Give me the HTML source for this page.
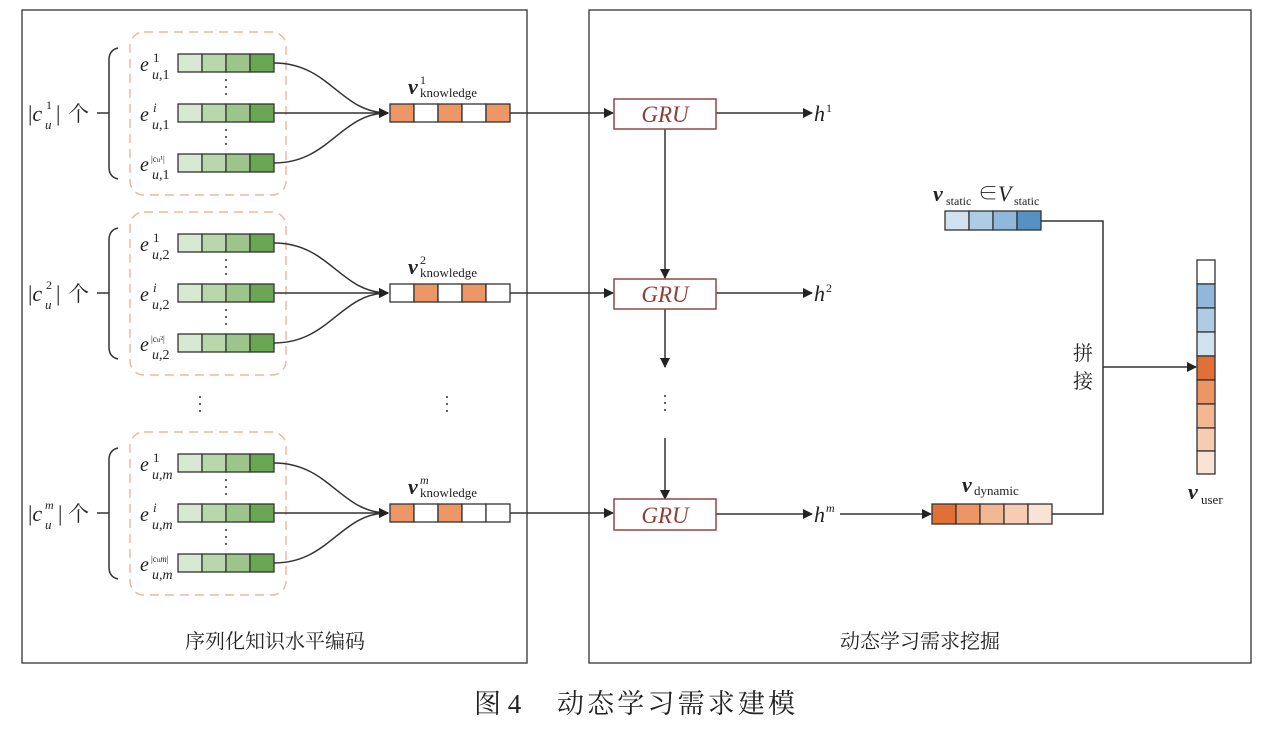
<!DOCTYPE html>
<html><head><meta charset="utf-8"><style>
html,body{margin:0;padding:0;background:#fff;}
svg{display:block;}
text{font-family:"Liberation Serif","Noto Serif CJK SC",serif;fill:#222;}
.cn{font-family:"Liberation Serif","Noto Serif CJK SC","Noto Sans CJK SC",serif;}
</style></head><body>
<svg width="1282" height="729" viewBox="0 0 1282 729" xmlns="http://www.w3.org/2000/svg">
<defs>
<marker id="ar" markerWidth="10" markerHeight="10" refX="9" refY="5" orient="auto" markerUnits="userSpaceOnUse">
<path d="M0,0 L10,5 L0,10 z" fill="#222"/></marker>
<g id="bars" stroke="#333" stroke-width="1.3">
<rect x="178" y="-9" width="24" height="18" fill="#d7e9d2"/><rect x="202" y="-9" width="24" height="18" fill="#b8d8ab"/><rect x="226" y="-9" width="24" height="18" fill="#9cc58c"/><rect x="250" y="-9" width="24" height="18" fill="#6aa653"/>
</g>
<g id="grp">
<rect x="130" y="-31" width="156" height="163" rx="14" fill="none" stroke="#f0b597" stroke-width="1.4" stroke-dasharray="9,6"/>
<path d="M118,-15 Q109,-13 109,-3 L109,104 Q109,114 118,116 M97,50 L109,50" fill="none" stroke="#333" stroke-width="1.5"/>
<use href="#bars" y="0"/><use href="#bars" y="50"/><use href="#bars" y="100"/>
<g fill="#333"><circle cx="226" cy="17" r="1"/><circle cx="226" cy="24" r="1"/><circle cx="226" cy="31" r="1"/><circle cx="226" cy="67" r="1"/><circle cx="226" cy="74" r="1"/><circle cx="226" cy="81" r="1"/></g>
<g fill="none" stroke="#333" stroke-width="1.5">
<path d="M274,0 C330,0 340,50 388,50" marker-end="url(#ar)"/>
<path d="M274,50 L388,50" marker-end="url(#ar)"/>
<path d="M274,100 C330,100 340,50 388,50" marker-end="url(#ar)"/>
</g>
</g>
</defs>

<rect x="22" y="10" width="505" height="653" fill="none" stroke="#333" stroke-width="1.3"/>
<rect x="589" y="10" width="662" height="653" fill="none" stroke="#333" stroke-width="1.3"/>

<use href="#grp" y="63"/>
<use href="#grp" y="243"/>
<use href="#grp" y="463"/>

<g font-style="italic" font-size="20">
<text x="140" y="71">e</text><text x="140" y="121">e</text><text x="140" y="171">e</text>
<text x="140" y="251">e</text><text x="140" y="301">e</text><text x="140" y="351">e</text>
<text x="140" y="471">e</text><text x="140" y="521">e</text><text x="140" y="571">e</text>
</g>
<g font-size="13">
<text x="153" y="62">1</text><text x="153" y="112" font-style="italic">i</text><text x="151" y="162" font-size="9">|c<tspan font-size="7">u</tspan>¹|</text>
<text x="153" y="242">1</text><text x="153" y="292" font-style="italic">i</text><text x="151" y="342" font-size="9">|c<tspan font-size="7">u</tspan>²|</text>
<text x="153" y="462">1</text><text x="153" y="512" font-style="italic">i</text><text x="151" y="562" font-size="9">|c<tspan font-size="7">u</tspan><tspan font-style="italic">m</tspan>|</text>
</g>
<g font-size="14">
<text x="152" y="79"><tspan font-style="italic">u</tspan>,1</text><text x="152" y="129"><tspan font-style="italic">u</tspan>,1</text><text x="152" y="179"><tspan font-style="italic">u</tspan>,1</text>
<text x="152" y="259"><tspan font-style="italic">u</tspan>,2</text><text x="152" y="309"><tspan font-style="italic">u</tspan>,2</text><text x="152" y="359"><tspan font-style="italic">u</tspan>,2</text>
<text x="152" y="479" font-style="italic">u,m</text><text x="152" y="529" font-style="italic">u,m</text><text x="152" y="579" font-style="italic">u,m</text>
</g>
<g font-size="22">
<text x="28" y="121">|<tspan font-style="italic">c</tspan></text><text x="56" y="121">|</text>
<text x="28" y="301">|<tspan font-style="italic">c</tspan></text><text x="56" y="301">|</text>
<text x="28" y="521">|<tspan font-style="italic">c</tspan></text><text x="58" y="521">|</text>
</g>
<g font-size="12"><text x="46" y="109">1</text><text x="46" y="289">2</text><text x="45" y="509" font-style="italic">m</text></g>
<g font-size="13" font-style="italic"><text x="45" y="129">u</text><text x="45" y="309">u</text><text x="45" y="529">u</text></g>
<g font-size="21" class="cn"><text x="68" y="121">个</text><text x="68" y="301">个</text><text x="68" y="521">个</text></g>

<g stroke="#333" stroke-width="1.3">
<rect x="390" y="104" width="24" height="18" fill="#ee9766"/><rect x="414" y="104" width="24" height="18" fill="#fff"/><rect x="438" y="104" width="24" height="18" fill="#ee9766"/><rect x="462" y="104" width="24" height="18" fill="#fff"/><rect x="486" y="104" width="24" height="18" fill="#ee9766"/>
<rect x="390" y="284" width="24" height="18" fill="#fff"/><rect x="414" y="284" width="24" height="18" fill="#ee9766"/><rect x="438" y="284" width="24" height="18" fill="#fff"/><rect x="462" y="284" width="24" height="18" fill="#ee9766"/><rect x="486" y="284" width="24" height="18" fill="#fff"/>
<rect x="390" y="504" width="24" height="18" fill="#ee9766"/><rect x="414" y="504" width="24" height="18" fill="#fff"/><rect x="438" y="504" width="24" height="18" fill="#ee9766"/><rect x="462" y="504" width="24" height="18" fill="#fff"/><rect x="486" y="504" width="24" height="18" fill="#fff"/>
</g>
<g>
<text x="408" y="94" font-size="22" font-style="italic" font-weight="bold">v</text><text x="420" y="84" font-size="12">1</text><text x="420" y="97" font-size="13">knowledge</text>
<text x="408" y="274" font-size="22" font-style="italic" font-weight="bold">v</text><text x="420" y="264" font-size="12">2</text><text x="420" y="277" font-size="13">knowledge</text>
<text x="408" y="494" font-size="22" font-style="italic" font-weight="bold">v</text><text x="420" y="484" font-size="12" font-style="italic">m</text><text x="420" y="497" font-size="13">knowledge</text>
</g>
<g fill="#333"><circle cx="200" cy="397" r="1"/><circle cx="200" cy="404" r="1"/><circle cx="200" cy="411" r="1"/><circle cx="447" cy="397" r="1"/><circle cx="447" cy="404" r="1"/><circle cx="447" cy="411" r="1"/>
<circle cx="665" cy="396" r="1"/><circle cx="665" cy="403" r="1"/><circle cx="665" cy="410" r="1"/></g>

<g fill="none" stroke="#333" stroke-width="1.5">
<path d="M510,113 L613,113" marker-end="url(#ar)"/>
<path d="M510,293 L613,293" marker-end="url(#ar)"/>
<path d="M510,513 L613,513" marker-end="url(#ar)"/>
<path d="M716,113 L812,113" marker-end="url(#ar)"/>
<path d="M716,293 L812,293" marker-end="url(#ar)"/>
<path d="M716,514 L812,514" marker-end="url(#ar)"/>
<path d="M665,129 L665,278" marker-end="url(#ar)"/>
<path d="M665,309 L665,367" marker-end="url(#ar)"/>
<path d="M665,438 L665,499" marker-end="url(#ar)"/>
<path d="M840,514 L931,514" marker-end="url(#ar)"/>
<path d="M1041,221 L1103,221 L1103,514 L1052,514"/>
<path d="M1103,367 L1196,367" marker-end="url(#ar)"/>
</g>
<g fill="#fff" stroke="#8b4a45" stroke-width="1.5">
<rect x="614" y="99" width="102" height="30"/><rect x="614" y="279" width="102" height="30"/><rect x="614" y="499" width="102" height="31"/>
</g>
<g font-size="23" font-style="italic" text-anchor="middle">
<text x="665" y="122" style="fill:#8b3f3a">GRU</text><text x="665" y="302" style="fill:#8b3f3a">GRU</text><text x="665" y="523" style="fill:#8b3f3a">GRU</text>
</g>
<g font-size="22" font-style="italic">
<text x="814" y="121">h</text><text x="814" y="301">h</text><text x="814" y="522">h</text>
</g>
<g font-size="12"><text x="826" y="112">1</text><text x="826" y="292">2</text><text x="826" y="512" font-style="italic">m</text></g>

<g stroke="#333" stroke-width="1.3">
<rect x="945" y="211" width="24" height="19" fill="#d0e2f0"/><rect x="969" y="211" width="24" height="19" fill="#aecde5"/><rect x="993" y="211" width="24" height="19" fill="#8fb8da"/><rect x="1017" y="211" width="24" height="19" fill="#5591c5"/>
</g>
<text x="933" y="201" font-size="22" font-style="italic" font-weight="bold">v</text><text x="946" y="205" font-size="12">static</text>
<text x="978" y="200" font-size="20">∈</text><text x="998" y="201" font-size="22" font-style="italic">V</text><text x="1014" y="205" font-size="12">static</text>

<g stroke="#333" stroke-width="1.3">
<rect x="932" y="504" width="24" height="20" fill="#e07038"/><rect x="956" y="504" width="24" height="20" fill="#ec9565"/><rect x="980" y="504" width="24" height="20" fill="#f2b892"/><rect x="1004" y="504" width="24" height="20" fill="#f6cdb3"/><rect x="1028" y="504" width="24" height="20" fill="#f9e3d5"/>
</g>
<text x="962" y="492" font-size="22" font-style="italic" font-weight="bold">v</text><text x="974" y="495" font-size="13">dynamic</text>

<g stroke="#333" stroke-width="1.3">
<rect x="1197" y="260" width="18" height="24" fill="#fff"/><rect x="1197" y="284" width="18" height="24" fill="#8fb8da"/><rect x="1197" y="308" width="18" height="24" fill="#aecde5"/><rect x="1197" y="332" width="18" height="24" fill="#d0e2f0"/><rect x="1197" y="356" width="18" height="24" fill="#e07038"/><rect x="1197" y="380" width="18" height="24" fill="#ec9565"/><rect x="1197" y="404" width="18" height="24" fill="#f2b892"/><rect x="1197" y="428" width="18" height="23" fill="#f6cdb3"/><rect x="1197" y="451" width="18" height="23" fill="#f9e3d5"/>
</g>
<text x="1188" y="499" font-size="22" font-style="italic" font-weight="bold">v</text><text x="1201" y="504" font-size="13">user</text>
<g class="cn" font-size="20"><text x="1073" y="360">拼</text><text x="1073" y="388">接</text></g>

<g class="cn" font-size="20" text-anchor="middle">
<text x="275" y="648">序列化知识水平编码</text>
<text x="920" y="648">动态学习需求挖掘</text>
</g>
<text class="cn" x="474" y="713" font-size="27">图 4</text>
<text class="cn" x="557" y="713" font-size="27" textLength="238" lengthAdjust="spacing">动态学习需求建模</text>
</svg>
</body></html>
